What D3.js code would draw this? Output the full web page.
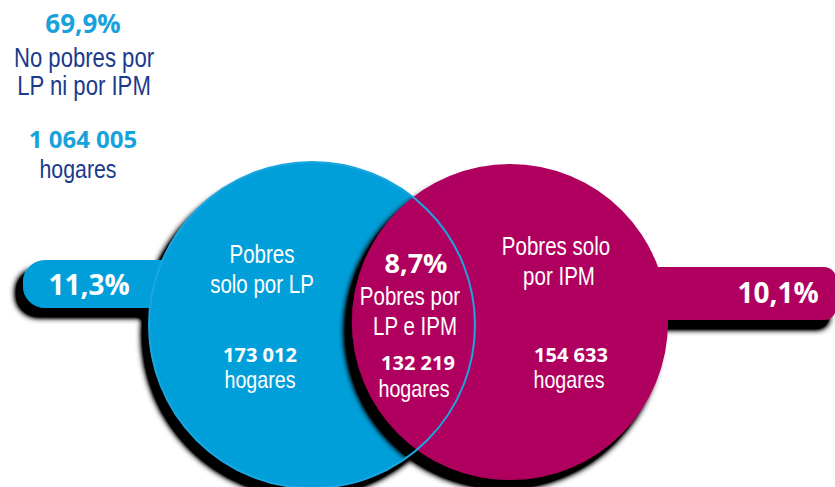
<!DOCTYPE html>
<html>
<head>
<meta charset="utf-8">
<script src="https://cdn.jsdelivr.net/npm/d3@7"></script>
<style>
  body { margin: 0; background: #fff; }
  svg { display: block; }
</style>
</head>
<body>
<svg id="chart" width="835" height="487"></svg>
<script>
// data
var categories = ['No pobres', 'Pobres solo por LP', 'Pobres por LP e IPM', 'Pobres solo por IPM'];
var percentages = [69.9, 11.3, 8.7, 10.1];
var households = [1064005, 173012, 132219, 154633];
var labelLines = [
  ['No pobres por', 'LP ni por IPM'],
  ['Pobres', 'solo por LP'],
  ['Pobres por', 'LP e IPM'],
  ['Pobres solo', 'por IPM']
];

var BLUE = '#009fda', MAGENTA = '#b0005e', NAVY = '#1b3a8c', LIGHT = '#18a2dc';

var locale = d3.formatLocale({ decimal: ',', thousands: ' ', grouping: [3], currency: ['', ''] });
var fmtPct = function(v) { return locale.format('.1f')(v) + '%'; };
var fmtNum = locale.format(',d');

var svg = d3.select('#chart');

// drop shadow (black, down-left)
var filter = svg.append('defs').append('filter')
    .attr('id', 'shadow')
    .attr('x', '-20%').attr('y', '-20%')
    .attr('width', '140%').attr('height', '140%');
filter.append('feGaussianBlur')
    .attr('in', 'SourceAlpha').attr('stdDeviation', 3).attr('result', 'blur');
filter.append('feOffset')
    .attr('in', 'blur').attr('dx', -7).attr('dy', 9).attr('result', 'off');
filter.append('feComponentTransfer')
    .attr('in', 'off').attr('result', 'dark')
    .append('feFuncA').attr('type', 'linear').attr('slope', 2);
var merge = filter.append('feMerge');
merge.append('feMergeNode').attr('in', 'dark');
merge.append('feMergeNode').attr('in', 'SourceGraphic');

// circle area ~ set total (LP = solo LP + both, IPM = solo IPM + both)
var lpTotal = percentages[1] + percentages[2];
var ipmTotal = percentages[3] + percentages[2];
var r = d3.scaleSqrt().domain([0, lpTotal]).range([0, 163]);

var blue = { cx: 312, cy: 325, r: r(lpTotal) };
var mag = { cx: 510, cy: 322, r: r(ipmTotal) };

// blue set: pill + circle
var gBlue = svg.append('g').attr('filter', 'url(#shadow)').attr('fill', BLUE);
gBlue.append('rect')
    .attr('x', 23).attr('y', 260)
    .attr('width', blue.cx - 23).attr('height', 48)
    .attr('rx', 22);
gBlue.append('circle')
    .attr('cx', blue.cx).attr('cy', blue.cy).attr('r', blue.r);

// magenta set: circle + pill
var gMag = svg.append('g').attr('filter', 'url(#shadow)').attr('fill', MAGENTA);
gMag.append('rect')
    .attr('x', mag.cx).attr('y', 267)
    .attr('width', 836 - mag.cx).attr('height', 53)
    .attr('rx', 12);
gMag.append('circle')
    .attr('cx', mag.cx).attr('cy', mag.cy).attr('r', mag.r);

// outline of the blue circle over the overlap
svg.append('circle')
    .attr('cx', blue.cx).attr('cy', blue.cy).attr('r', blue.r)
    .attr('fill', 'none')
    .attr('stroke', '#1ba6e0')
    .attr('stroke-width', 2);

// narrow labels: Liberation Sans squeezed like Arial Narrow
function narrow(x, y, str, size, color) {
  svg.append('text')
      .attr('transform', 'translate(' + x + ',' + y + ') scale(0.82,1)')
      .attr('text-anchor', 'middle')
      .attr('font-family', '"Liberation Sans", Arial, sans-serif')
      .attr('font-size', size)
      .attr('fill', color)
      .text(str);
}
function bold(x, y, str, size, color) {
  svg.append('text')
      .attr('x', x).attr('y', y)
      .attr('text-anchor', 'middle')
      .attr('font-family', '"Open Sans", sans-serif')
      .attr('font-weight', 700)
      .attr('font-size', size)
      .attr('fill', color)
      .text(str);
}

// no pobres
bold(83, 33, fmtPct(percentages[0]), 26, LIGHT);
narrow(84, 67, labelLines[0][0], 27, NAVY);
narrow(84, 95, labelLines[0][1], 27, NAVY);
bold(83, 148, fmtNum(households[0]), 24, LIGHT);
narrow(78, 178, 'hogares', 26, NAVY);

// solo LP
bold(89, 295, fmtPct(percentages[1]), 28, '#fff');
narrow(262, 263, labelLines[1][0], 25, '#fff');
narrow(262, 293, labelLines[1][1], 25, '#fff');
bold(260, 362, fmtNum(households[1]), 20, '#fff');
narrow(260, 388, 'hogares', 24, '#fff');

// LP e IPM
bold(416, 273, fmtPct(percentages[2]), 27, '#fff');
narrow(410, 305, labelLines[2][0], 25, '#fff');
narrow(415, 335, labelLines[2][1], 25, '#fff');
bold(418, 370, fmtNum(households[2]), 20, '#fff');
narrow(414, 397, 'hogares', 24, '#fff');

// solo IPM
narrow(556, 255, labelLines[3][0], 25, '#fff');
narrow(559, 285, labelLines[3][1], 25, '#fff');
bold(571, 362, fmtNum(households[3]), 20, '#fff');
narrow(569, 388, 'hogares', 24, '#fff');
bold(778, 303, fmtPct(percentages[3]), 28, '#fff');
</script>
</body>
</html>
